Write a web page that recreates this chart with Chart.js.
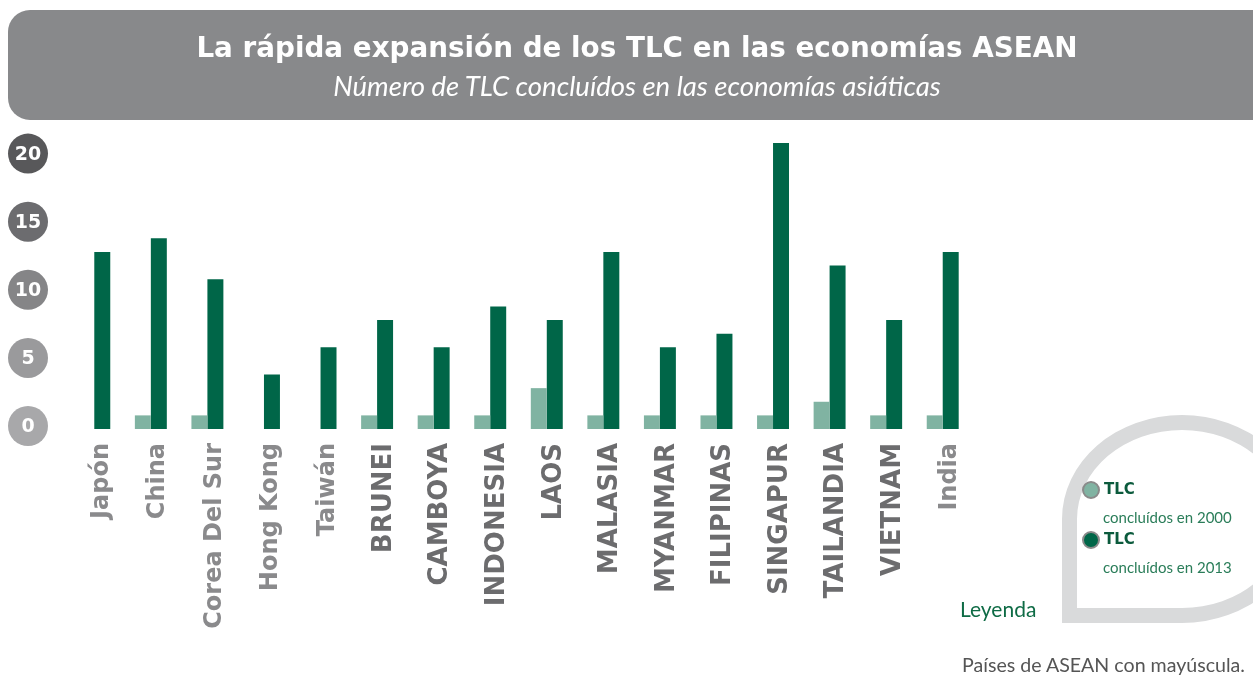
<!DOCTYPE html>
<html>
<head>
<meta charset="utf-8">
<script src="https://cdn.jsdelivr.net/npm/chart.js@4.4.0/dist/chart.umd.min.js"></script>
<style>
  html, body { margin: 0; padding: 0; background: #ffffff; }
  #wrap { position: relative; width: 1253px; height: 676px; overflow: hidden; font-family: "Lato", "DejaVu Sans", sans-serif; }
  #c { position: absolute; left: 0; top: 0; }
  #titlebox { position: absolute; left: 8px; top: 10px; width: 1270px; height: 110px; background: #88898b; border-radius: 22px; }
  #title { position: absolute; left: 0; width: 1274px; top: 31px; text-align: center; color: #fff; font-family: "DejaVu Sans", sans-serif; font-weight: bold; font-size: 27.8px; }
  #subtitle { position: absolute; left: 0; width: 1274px; top: 69px; text-align: center; color: #fff; font-family: "Lato", sans-serif; font-style: italic; font-size: 27.5px; }
  #drop { position: absolute; left: 1062px; top: 415px; width: 210px; height: 178px; border: 15px solid #d9dadb; border-radius: 50% 50% 50% 0; box-sizing: content-box; }
  .dot { position: absolute; width: 14px; height: 14px; border-radius: 50%; border: 2px solid #8a8a8a; }
  .tlc { position: absolute; font-family: "DejaVu Sans", sans-serif; font-weight: bold; font-size: 15px; color: #0b5a3c; }
  .sub { position: absolute; font-family: "Lato", sans-serif; font-size: 15px; color: #2a7d59; }
  #leyenda { position: absolute; left: 960px; top: 596px; font-family: "Lato", sans-serif; font-size: 21px; color: #0e6b45; }
  #foot { position: absolute; left: 962px; top: 653px; font-family: "Lato", sans-serif; font-size: 19.6px; color: #555; }
</style>
</head>
<body>
<div id="wrap">
  <canvas id="c" width="1253" height="676"></canvas>
  <div id="titlebox"></div>
  <div id="title">La rápida expansión de los TLC en las economías ASEAN</div>
  <div id="subtitle">Número de TLC concluídos en las economías asiáticas</div>
  <div id="drop"></div>
  <div id="legendItems"></div>
  <div id="leyenda">Leyenda</div>
  <div id="foot">Países de ASEAN con mayúscula.</div>
</div>
<script>
const categories = ["Japón","China","Corea Del Sur","Hong Kong","Taiwán","BRUNEI","CAMBOYA","INDONESIA","LAOS","MALASIA","MYANMAR","FILIPINAS","SINGAPUR","TAILANDIA","VIETNAM","India"];
const tlc2000 = [0,1,1,0,0,1,1,1,3,1,1,1,1,2,1,1];
const tlc2013 = [13,14,11,4,6,8,6,9,8,13,6,7,21,12,8,13];
const yTicks = [0,5,10,15,20];
const seriesLabels = ["TLC concluídos en 2000","TLC concluídos en 2013"];

const LIGHT = "#80b3a2", DARK = "#006648";
const circleColors = ["#a8a8aa","#9a9a9c","#858587","#6c6c6f","#58585a"];

const isAsean = (s) => s === s.toUpperCase();

const yCircles = {
  id: "yCircles",
  afterDraw(chart) {
    const ctx = chart.ctx, y = chart.scales.y;
    ctx.save();
    yTicks.forEach((v, i) => {
      const py = y.getPixelForValue(v);
      ctx.beginPath();
      ctx.arc(28, py - 3, 20, 0, Math.PI * 2);
      ctx.fillStyle = circleColors[i];
      ctx.fill();
      ctx.fillStyle = "#ffffff";
      ctx.font = "bold 19px 'DejaVu Sans', sans-serif";
      ctx.textAlign = "center";
      ctx.textBaseline = "middle";
      ctx.fillText(String(v), 28, py - 2);
    });
    ctx.restore();
  }
};

new Chart(document.getElementById("c"), {
  type: "bar",
  data: {
    labels: categories,
    datasets: [
      { label: seriesLabels[0], data: tlc2000, backgroundColor: LIGHT, barPercentage: 1, categoryPercentage: 0.565 },
      { label: seriesLabels[1], data: tlc2013, backgroundColor: DARK, barPercentage: 1, categoryPercentage: 0.565 }
    ]
  },
  options: {
    responsive: false,
    animation: false,
    layout: { padding: { left: 66, right: 282, top: 143, bottom: 10 } },
    plugins: { legend: { display: false }, tooltip: { enabled: false } },
    scales: {
      x: {
        grid: { display: false },
        border: { display: false },
        ticks: {
          minRotation: 90, maxRotation: 90, autoSkip: false, padding: 6, labelOffset: 7,
          color: (c) => isAsean(categories[c.index]) ? "#6c6c6e" : "#8a8a8c",
          font: (c) => ({ family: "'DejaVu Sans', sans-serif", weight: "bold", size: isAsean(categories[c.index]) ? 26 : 24 })
        },
        afterFit: (s) => { s.height = 237; }
      },
      y: {
        display: false,
        min: 0, max: 21
      }
    }
  },
  plugins: [yCircles]
});

// legend (HTML, built from series labels/colors)
const li = document.getElementById("legendItems");
[[LIGHT, 481, 510],[DARK, 531, 560]].forEach(([col, ty, sy], i) => {
  const d = document.createElement("div"); d.className = "dot";
  d.style.left = "1082px"; d.style.top = (ty) + "px"; d.style.background = col; li.appendChild(d);
  const t = document.createElement("div"); t.className = "tlc"; t.textContent = seriesLabels[i].split(" ")[0];
  t.style.left = "1104px"; t.style.top = (ty - 1) + "px"; li.appendChild(t);
  const s = document.createElement("div"); s.className = "sub"; s.textContent = seriesLabels[i].split(" ").slice(1).join(" ");
  s.style.left = "1103px"; s.style.top = (sy - 2) + "px"; li.appendChild(s);
});
</script>
</body>
</html>
